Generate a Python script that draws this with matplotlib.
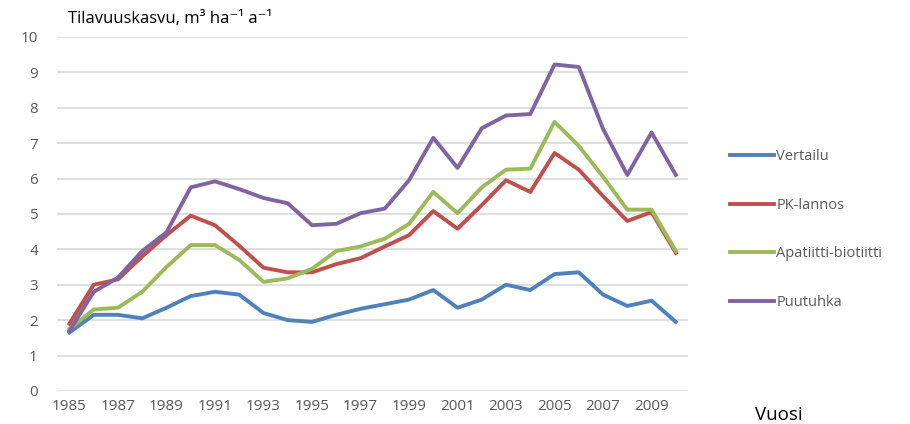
import matplotlib
matplotlib.use("Agg")
import matplotlib.pyplot as plt

plt.rcParams['font.family'] = ['Open Sans', 'DejaVu Sans']

years = list(range(1985, 2011))
tick_years = list(range(1985, 2011, 2))

vertailu = [1.65, 2.15, 2.15, 2.05, 2.35, 2.68, 2.80, 2.72, 2.20, 2.00, 1.95, 2.15, 2.32,
            2.45, 2.58, 2.85, 2.35, 2.58, 3.00, 2.85, 3.30, 3.35, 2.72, 2.40, 2.55, 1.95]
pk_lannos = [1.90, 3.00, 3.15, 3.80, 4.40, 4.95, 4.68, 4.10, 3.48, 3.35, 3.35, 3.58, 3.75,
             4.08, 4.40, 5.08, 4.58, 5.25, 5.95, 5.62, 6.72, 6.25, 5.50, 4.80, 5.05, 3.90]
apatiitti = [1.75, 2.30, 2.35, 2.80, 3.50, 4.12, 4.12, 3.70, 3.08, 3.18, 3.45, 3.95, 4.08,
             4.30, 4.72, 5.62, 5.02, 5.75, 6.25, 6.28, 7.60, 6.92, 6.05, 5.12, 5.12, 3.95]
puutuhka = [1.70, 2.80, 3.20, 3.95, 4.48, 5.75, 5.92, 5.70, 5.45, 5.30, 4.68, 4.72, 5.02,
            5.15, 5.95, 7.15, 6.30, 7.42, 7.78, 7.82, 9.22, 9.15, 7.40, 6.10, 7.30, 6.10]

series = [
    ("Vertailu", vertailu, "#4F81BD"),
    ("PK-lannos", pk_lannos, "#C0504D"),
    ("Apatiitti-biotiitti", apatiitti, "#9BBB59"),
    ("Puutuhka", puutuhka, "#8064A2"),
]

fig = plt.figure(figsize=(9.10, 4.24), dpi=100)
ax = fig.add_axes([0.063, 0.078, 0.693, 0.835])

for name, vals, col in series:
    ax.plot(years, vals, color=col, lw=2.8, label=name, solid_joinstyle='round')

ax.set_xlim(1984.5, 2010.5)
ax.set_ylim(0, 10)
ax.set_yticks(range(0, 11))
ax.set_xticks(tick_years)
ax.grid(axis='y', color='#D9D9D9', lw=1.2)
ax.set_axisbelow(True)
for s in ax.spines.values():
    s.set_visible(False)
ax.tick_params(axis='both', length=0, labelsize=11, labelcolor='#595959')
ax.tick_params(axis='y', pad=14)
ax.tick_params(axis='x', pad=6)

fig.text(0.075, 0.955, "Tilavuuskasvu, m³ ha⁻¹ a⁻¹", fontsize=12, color='black',
         ha='left', va='center')
fig.text(0.83, 0.022, "Vuosi", fontsize=13.5, color='black', ha='left', va='center')

leg = ax.legend(loc='upper left', bbox_to_anchor=(0.796, 0.662), bbox_transform=fig.transFigure,
                frameon=False, fontsize=10.5, labelspacing=2.3, handlelength=3.0,
                handletextpad=0.15, borderaxespad=0)
for t in leg.get_texts():
    t.set_color('#595959')

fig.savefig("out.png", dpi=100)
